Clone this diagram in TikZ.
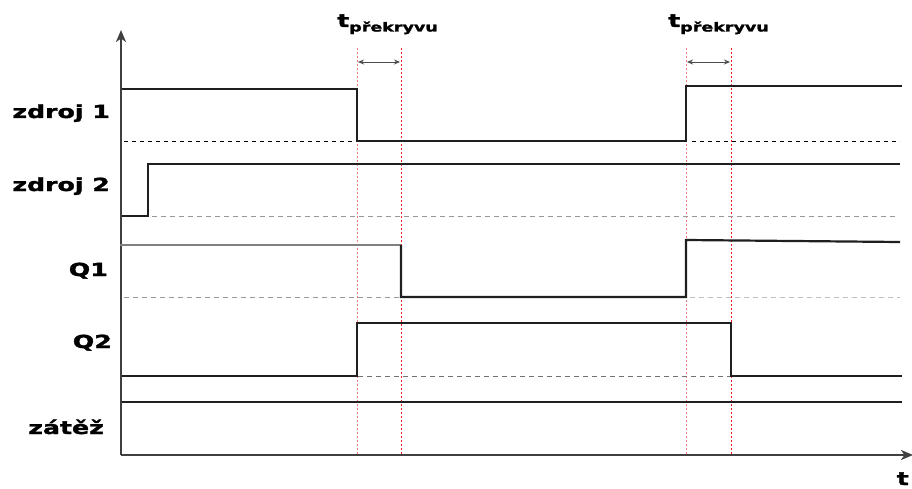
\documentclass[tikz,border=0pt]{standalone}
\usepackage{fontspec}
\setmainfont{DejaVu Sans}
\newfontfamily\lblfont{DejaVu Sans Bold}[FakeBold=1.6]
\usetikzlibrary{arrows.meta}
\definecolor{redA}{RGB}{235,30,30}
\definecolor{redB}{RGB}{250,120,120}
\tikzset{
  sig/.style={line width=2.2pt, color=black!88, line join=miter},
  sigg/.style={line width=2.2pt, color=black!50},
  axis/.style={line width=2.2pt, color=black!75, -{Stealth[length=12pt,width=10pt,inset=3.5pt]}},
  refblack/.style={line width=0.9pt, black, dash pattern=on 4pt off 4pt},
  refgray/.style={line width=0.9pt, black!40, dash pattern=on 5pt off 4pt},
  refdark/.style={line width=0.9pt, black!55, dash pattern=on 5pt off 4pt},
  marker/.style={line width=1pt, redA, dash pattern=on 2pt off 2pt},
  markerl/.style={line width=1pt, redB, dash pattern=on 2pt off 2pt},
  span/.style={line width=0.9pt, black!70, {Stealth[length=6pt,width=5pt]}-{Stealth[length=6pt,width=5pt]}},
  lbl/.style={inner sep=0pt, font=\lblfont\fontsize{18}{20}\selectfont},
}
\newcommand{\wide}[1]{\scalebox{1.4}[1]{#1}}
\newcommand{\tover}{\wide{t}\raisebox{-4.5pt}{\fontsize{12.5}{14}\selectfont\wide{překryvu}}}
\begin{document}
\begin{tikzpicture}[x=1pt,y=-1pt]
\useasboundingbox (0,0) rectangle (912,489);
% axes
\coordinate (o) at (121,455);
\coordinate (ytop) at (121,30);
\coordinate (xend) at (913,455);
\draw[axis] (o) -- (ytop);
\draw[axis] (o) -- (xend);
\node[lbl, anchor=base east] (tax) at (909,485) {\wide{t}};
% marker lines
\foreach \n/\x/\s in {m1/357.5/markerl, m2/401.5/marker, m3/686.5/markerl, m4/731.5/marker}{
  \coordinate (\n t) at (\x,48);
  \coordinate (\n b) at (\x,455);
  \draw[\s] (\n t) -- (\n b);
}
% spans
\coordinate (a1) at (358,62); \coordinate (a2) at (400,62);
\coordinate (a3) at (687,62); \coordinate (a4) at (730,62);
\draw[span] (a1) -- (a2);
\draw[span] (a3) -- (a4);
\node[lbl, anchor=base west] (tp1) at (337,27) {\tover};
\node[lbl, anchor=base west] (tp2) at (668,27) {\tover};
% labels
\node[lbl, anchor=base east] (l1) at (110,118) {\wide{zdroj 1}};
\node[lbl, anchor=base east] (l2) at (110,191) {\wide{zdroj 2}};
\node[lbl, anchor=base east] (l3) at (108,276) {\wide{Q1}};
\node[lbl, anchor=base east] (l4) at (112,348) {\wide{Q2}};
\node[lbl, anchor=base east] (l5) at (104,434) {\wide{zátěž}};
% reference dashed lines
\draw[refblack] (124,141) -- (356,141);
\draw[refblack] (692,141) -- (900,141);
\draw[refgray] (152,216) -- (897,216);
\draw[refgray] (124,297) -- (400,297);
\draw[refgray, black!25] (690,297) -- (900,297);
\draw[refdark] (358,376) -- (730,376);
% signals
\draw[sig] (122,89) -- (357,89) -- (357,141) -- (686,141) -- (686,86) -- (902,86);
\draw[sig] (122,216) -- (148,216) -- (148,164) -- (900,164);
\draw[sigg] (120,245) -- (401,245);
\draw[sig] (401,245) -- (401,297) -- (686,297) -- (686,240) -- (900,242);
\draw[sig] (122,376) -- (357,376) -- (357,323) -- (731,323) -- (731,376) -- (902,376);
\draw[sig] (122,402) -- (902,402);
\end{tikzpicture}
\end{document}
